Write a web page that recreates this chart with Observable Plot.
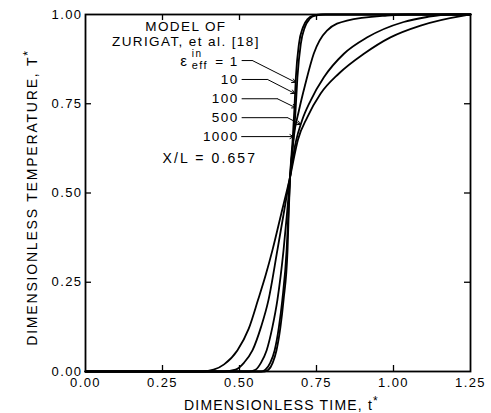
<!DOCTYPE html>
<html><head><meta charset="utf-8">
<script src="https://cdn.jsdelivr.net/npm/d3@7"></script>
<script src="https://cdn.jsdelivr.net/npm/@observablehq/plot@0.6"></script>
<style>
html,body{margin:0;padding:0;background:#fff;}
#chart svg{display:block;}
#chart svg text{letter-spacing:1.4px;}
</style></head><body><div id="chart"></div>
<script>
// tick values
const xTicks = [0, 0.25, 0.5, 0.75, 1.0, 1.25];
const yTicks = [0, 0.25, 0.5, 0.75, 1.0];
// series: effective inlet conductivity ratio
const seriesNames = ["1", "10", "100", "500", "1000"];
// [t*, T*]
const eps1 = [[0,0],[0.58,0],[0.594,0.005],[0.608,0.025],[0.62,0.059],[0.633,0.125],[0.643,0.2],[0.656,0.34],[0.66,0.45],[0.664,0.54],[0.673,0.656],[0.678,0.731],[0.683,0.824],[0.693,0.918],[0.706,0.964],[0.722,0.988],[0.74,0.997],[0.77,1],[1.25,1]];
const eps10 = [[0,0],[0.57,0],[0.584,0.005],[0.6,0.025],[0.614,0.059],[0.628,0.125],[0.639,0.2],[0.653,0.34],[0.659,0.45],[0.664,0.54],[0.676,0.66],[0.682,0.731],[0.688,0.824],[0.699,0.918],[0.712,0.964],[0.728,0.988],[0.745,0.997],[0.78,1],[1.25,1]];
const eps100 = [[0,0],[0.53,0],[0.552,0.005],[0.57,0.025],[0.588,0.059],[0.607,0.125],[0.623,0.2],[0.643,0.34],[0.655,0.45],[0.664,0.54],[0.676,0.656],[0.693,0.731],[0.714,0.806],[0.741,0.89],[0.784,0.955],[0.849,0.983],[0.979,0.997],[1.05,1],[1.25,1]];
const eps500 = [[0,0],[0.45,0],[0.487,0.005],[0.515,0.025],[0.542,0.059],[0.57,0.125],[0.594,0.2],[0.623,0.34],[0.645,0.45],[0.663,0.54],[0.682,0.64],[0.703,0.703],[0.731,0.759],[0.774,0.824],[0.839,0.89],[0.915,0.936],[1.033,0.979],[1.109,0.993],[1.18,1],[1.25,1]];
const eps1000 = [[0,0],[0.38,0],[0.416,0.005],[0.45,0.02],[0.493,0.059],[0.53,0.12],[0.56,0.2],[0.585,0.27],[0.607,0.34],[0.635,0.44],[0.663,0.54],[0.69,0.65],[0.72,0.712],[0.763,0.778],[0.822,0.834],[0.904,0.89],[0.99,0.936],[1.088,0.969],[1.228,0.997],[1.25,1]];

// annotation texts
const titleLines = ["MODEL OF", "ZURIGAT, et al. [18]"];
const caseLabels = ["10", "100", "500", "1000"];
const positionLabel = "X/L = 0.657";

const curves = [eps1, eps10, eps100, eps500, eps1000].flatMap((arr, i) =>
  arr.map(([t, T]) => ({t, T, s: seriesNames[i]})));

// leader lines: label end -> elbow -> arrow tip (data coords)
const leaderY = [0.871, 0.818, 0.764, 0.711, 0.658];
const elbowX = [0.542, 0.591, 0.623, 0.656, 0.507];
const tipX = [0.682, 0.679, 0.682, 0.698, 0.675];
const tipY = [0.810, 0.779, 0.739, 0.692, 0.658];
const leaderStartX = 0.507;
const horiz = leaderY.map((y, i) => ({x1: leaderStartX, y1: y, x2: elbowX[i], y2: y}));
const diag = leaderY.map((y, i) => ({x1: i === 4 ? leaderStartX : elbowX[i], y1: y, x2: tipX[i], y2: tipY[i]}));

const W = 491, H = 413, mL = 85, mR = 21, mT = 14, mB = 42;
const plotH = H - mT - mB, plotW = W - mL - mR;
const fmt = d3.format(".2f");
const font = "'Liberation Sans', Arial, Helvetica, sans-serif";

const caseBase = [0.806, 0.752, 0.698, 0.647];

const chart = Plot.plot({
  width: W, height: H,
  marginLeft: mL, marginRight: mR, marginTop: mT, marginBottom: mB,
  x: {domain: [0, 1.25], label: null},
  y: {domain: [0, 1], label: null},
  style: {fontFamily: font, fontSize: "13px", color: "#000", background: "#fff", overflow: "visible"},
  marks: [
    Plot.axisX({ticks: xTicks, tickSize: 0, tickPadding: 6, tickFormat: fmt, label: null, fontSize: 13}),
    Plot.axisY({ticks: yTicks, tickSize: 0, tickPadding: 3, tickFormat: fmt, label: null, fontSize: 13}),
    // inward ticks on all four sides
    Plot.tickX(xTicks.slice(1, -1), {x: d => d, insetTop: plotH - 6, strokeWidth: 1.3}),
    Plot.tickX(xTicks.slice(1, -1), {x: d => d, insetBottom: plotH - 6, strokeWidth: 1.3}),
    Plot.tickY(yTicks.slice(1, -1), {y: d => d, insetRight: plotW - 6, strokeWidth: 1.3}),
    Plot.tickY(yTicks.slice(1, -1), {y: d => d, insetLeft: plotW - 6, strokeWidth: 1.3}),
    Plot.line(curves, {x: "t", y: "T", z: "s", curve: "monotone-x", stroke: "#000", strokeWidth: 1.8}),
    Plot.frame({stroke: "#000", strokeWidth: 1.8}),
    Plot.link(horiz, {x1: "x1", y1: "y1", x2: "x2", y2: "y2", stroke: "#000", strokeWidth: 1}),
    Plot.arrow(diag, {x1: "x1", y1: "y1", x2: "x2", y2: "y2", stroke: "#000", strokeWidth: 1, headLength: 6, bend: 0}),
    Plot.text([titleLines[0]], {x: 0.326, y: 0.955, text: d => d, textAnchor: "middle", lineAnchor: "bottom", fontSize: 13.5}),
    Plot.text([titleLines[1]], {x: 0.326, y: 0.913, text: d => d, textAnchor: "middle", lineAnchor: "bottom", fontSize: 13.5}),
    Plot.text(["ε"], {x: 0.308, y: 0.856, text: d => d, textAnchor: "start", lineAnchor: "bottom", fontSize: 15}),
    Plot.text(["in"], {x: 0.345, y: 0.880, text: d => d, textAnchor: "start", lineAnchor: "bottom", fontSize: 10}),
    Plot.text(["eff"], {x: 0.345, y: 0.846, text: d => d, textAnchor: "start", lineAnchor: "bottom", fontSize: 11}),
    Plot.text(["= 1"], {x: 0.497, y: 0.856, text: d => d, textAnchor: "end", lineAnchor: "bottom", fontSize: 13.5}),
    Plot.text(caseLabels, {x: 0.497, y: (d, i) => caseBase[i], text: d => d, textAnchor: "end", lineAnchor: "bottom", fontSize: 13.5}),
    Plot.text([positionLabel], {x: 0.25, y: 0.583, text: d => d, textAnchor: "start", lineAnchor: "bottom", fontSize: 14, fontVariant: "normal"})
  ]
});
document.getElementById("chart").appendChild(chart);
// slightly wider spacing for the X/L label, as in the reference lettering
d3.select(chart).selectAll("text").filter(function() { return this.textContent === positionLabel; })
  .style("letter-spacing", "2.1px");

// axis titles with superscript asterisks
const svg = d3.select(chart);
const xs = chart.scale("x"), ys = chart.scale("y");
const xt = svg.append("text")
  .attr("x", (xs.range[0] + xs.range[1]) / 2 + 4).attr("y", H - 3)
  .attr("text-anchor", "middle").attr("font-family", font).attr("font-size", 14)
  .style("letter-spacing", "1.2px").attr("fill", "#000");
xt.append("tspan").text("DIMENSIONLESS TIME, t");
xt.append("tspan").text("*").attr("dy", -5).attr("font-size", 12);
const yt = svg.append("text")
  .attr("transform", `translate(37,${(ys.range[0] + ys.range[1]) / 2 + 5}) rotate(-90)`)
  .attr("text-anchor", "middle").attr("font-family", font).attr("font-size", 14)
  .style("letter-spacing", "1.8px").attr("fill", "#000");
yt.append("tspan").text("DIMENSIONLESS TEMPERATURE, T");
yt.append("tspan").text("*").attr("dy", -5).attr("font-size", 12);
</script></body></html>
